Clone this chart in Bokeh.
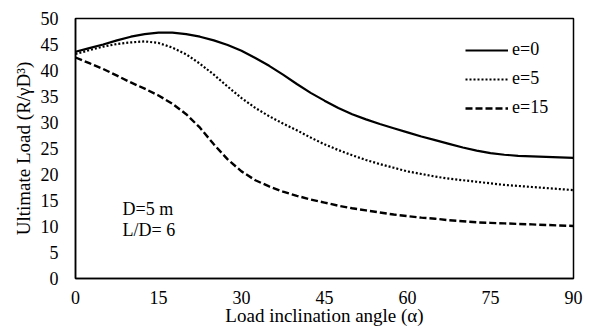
from bokeh.plotting import figure
from bokeh.models import FixedTicker, Legend, LegendItem, Label, Range1d
from bokeh.embed import file_html
from bokeh.resources import INLINE

angles = [0, 2.5, 5, 7.5, 10, 12.5, 15, 17.5, 20, 22.5, 25, 27.5, 30, 32.5, 35, 37.5, 40, 42.5, 45,
          47.5, 50, 52.5, 55, 57.5, 60, 62.5, 65, 67.5, 70, 72.5, 75, 77.5, 80, 82.5, 85, 87.5, 90]
e0 = [43.6, 44.3, 45.0, 45.8, 46.5, 47.0, 47.3, 47.3, 47.0, 46.5, 45.8, 44.9, 43.8, 42.4, 40.9, 39.2, 37.4, 35.7, 34.2,
      32.8, 31.6, 30.6, 29.7, 28.9, 28.1, 27.3, 26.6, 25.9, 25.2, 24.6, 24.1, 23.8, 23.6, 23.5, 23.4, 23.3, 23.2]
e5 = [43.2, 43.9, 44.6, 45.1, 45.4, 45.6, 45.3, 44.4, 43.1, 41.3, 39.2, 36.9, 34.7, 32.8, 31.2, 29.8, 28.5, 27.1, 25.8,
      24.7, 23.7, 22.8, 22.0, 21.3, 20.6, 20.1, 19.6, 19.2, 18.9, 18.6, 18.3, 18.0, 17.8, 17.6, 17.4, 17.2, 17.0]
e15 = [42.5, 41.4, 40.3, 39.0, 37.7, 36.5, 35.2, 33.6, 31.6, 29.0, 25.8, 22.9, 20.6, 18.9, 17.7, 16.7, 15.9, 15.2, 14.6,
       14.0, 13.5, 13.1, 12.7, 12.3, 12.0, 11.7, 11.5, 11.2, 11.0, 10.8, 10.7, 10.6, 10.5, 10.4, 10.3, 10.2, 10.1]
series_names = ["e=0", "e=5", "e=15"]
x_ticks = [0, 15, 30, 45, 60, 75, 90]
y_ticks = [0, 5, 10, 15, 20, 25, 30, 35, 40, 45, 50]
note_lines = ["D=5 m", "L/D= 6"]

FONT = "Liberation Serif"

p = figure(width=591, height=329, output_backend="svg", toolbar_location=None,
           x_range=Range1d(0, 90), y_range=Range1d(0, 50),
           min_border_left=75, min_border_right=18, min_border_top=18, min_border_bottom=51)
p.grid.visible = False
p.outline_line_color = "black"
p.outline_line_width = 1.5
p.background_fill_color = "white"
p.border_fill_color = "white"

for ax in (p.xaxis[0], p.yaxis[0]):
    ax.major_tick_line_color = None
    ax.minor_tick_line_color = None
    ax.axis_line_color = "black"
    ax.axis_line_width = 1.5
    ax.major_label_text_font = FONT
    ax.major_label_text_font_size = "18px"
    ax.major_label_text_color = "black"
    ax.axis_label_text_font = FONT
    ax.axis_label_text_font_size = "19px"
    ax.axis_label_text_font_style = "normal"
    ax.axis_label_text_color = "black"
    ax.major_tick_out = 0
    ax.major_tick_in = 0

p.xaxis.ticker = FixedTicker(ticks=x_ticks)
p.yaxis.ticker = FixedTicker(ticks=y_ticks)
p.xaxis.major_label_standoff = 12
p.yaxis.major_label_standoff = 17
p.xaxis.axis_label = "Load inclination angle (\u03b1)"
p.yaxis.axis_label = "Ultimate Load (R/\u03b3D\u00b3)"
p.xaxis.axis_label_standoff = -2
p.yaxis.axis_label_standoff = 4

r0 = p.line(angles, e0, line_color="black", line_width=2.2)
r5 = p.line(angles, e5, line_color="black", line_width=2.2, line_dash="2 2")
r15 = p.line(angles, e15, line_color="black", line_width=2.4, line_dash="7 3")

legend = Legend(items=[LegendItem(label=series_names[0], renderers=[r0]),
                       LegendItem(label=series_names[1], renderers=[r5]),
                       LegendItem(label=series_names[2], renderers=[r15])],
                location=(390, 160), padding=0, margin=0, spacing=8,
                glyph_width=43, glyph_height=20, label_height=20, label_standoff=4,
                label_text_font=FONT, label_text_font_size="18px",
                label_text_color="black",
                border_line_color=None, background_fill_alpha=0)
p.add_layout(legend)

for i, t in enumerate(note_lines):
    p.add_layout(Label(x=47, y=70 - i * 21, x_units="screen", y_units="screen", text=t,
                       text_font=FONT, text_font_size="18px", text_color="black",
                       text_baseline="middle"))

open("out.html", "w").write(file_html(p, INLINE))
